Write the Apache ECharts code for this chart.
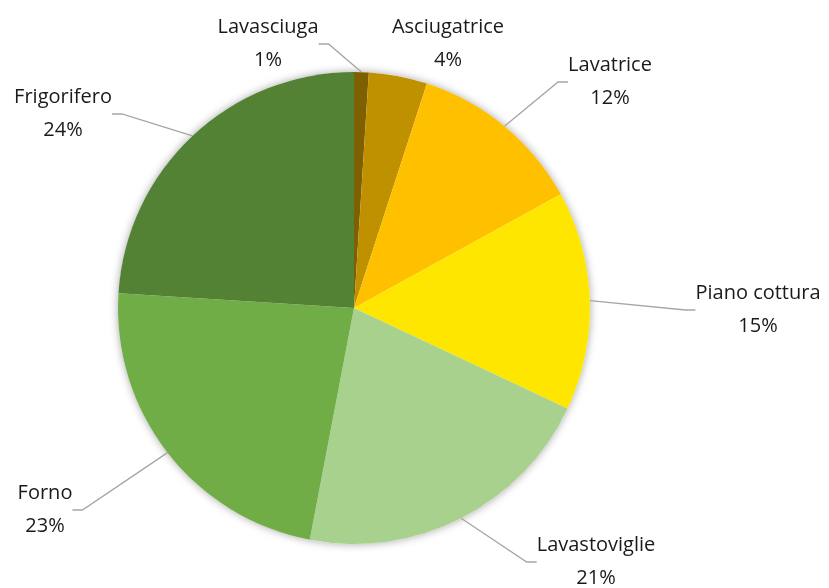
<!DOCTYPE html>
<html>
<head>
<meta charset="utf-8">
<script src="https://cdn.jsdelivr.net/npm/echarts@6/dist/echarts.min.js"></script>
<style>
  html, body { margin: 0; padding: 0; background: #fff; }
  #chart { width: 829px; height: 588px; }
</style>
</head>
<body>
<div id="chart"></div>
<script>
// dati
const categories = ["Lavasciuga", "Asciugatrice", "Lavatrice", "Piano cottura", "Lavastoviglie", "Forno", "Frigorifero"];
const values = [1, 4, 12, 15, 21, 23, 24];
const colors = ["#7f6000", "#bf9000", "#ffc000", "#ffe600", "#a9d18e", "#70ad47", "#548235"];

// posizione delle etichette (centro del blocco di testo)
const labelPos = [[268, 44], [448, 44], [610, 82], [758, 310], [596, 562], [45, 510], [63, 114]];

const chart = echarts.init(document.getElementById("chart"));

const option = {
  backgroundColor: "#fff",
  animation: false,
  series: [
    {
      // ombra attorno alla torta
      type: "pie",
      center: [354, 308],
      radius: 236,
      silent: true,
      z: 1,
      label: { show: false },
      labelLine: { show: false },
      data: [{ value: 1, itemStyle: { color: "#fff", shadowBlur: 9, shadowColor: "rgba(0,0,0,0.35)" } }],
    },
    {
      type: "pie",
      center: [354, 308],
      radius: 236,
      startAngle: 90,
      clockwise: true,
      z: 2,
      avoidLabelOverlap: false,
      data: categories.map((name, i) => ({
        name: name,
        value: values[i],
        itemStyle: { color: colors[i] },
        labelLine: { show: i !== 1 },
      })),
      label: {
        formatter: "{b}\n{d}%",
        fontFamily: "Open Sans",
        fontSize: 20,
        lineHeight: 33,
        color: "#1a1a1a",
        align: "center",
      },
      labelLine: {
        show: true,
        length: 20,
        length2: 10,
        lineStyle: { color: "#a6a6a6", width: 1.3 },
      },
      labelLayout: function (params) {
        const p = labelPos[params.dataIndex];
        return {
          x: p[0],
          y: p[1],
          align: "center",
          verticalAlign: "middle",
        };
      },
    },
  ],
};

chart.setOption(option);
window.onresize = function () {
  chart.resize();
};
</script>
</body>
</html>
